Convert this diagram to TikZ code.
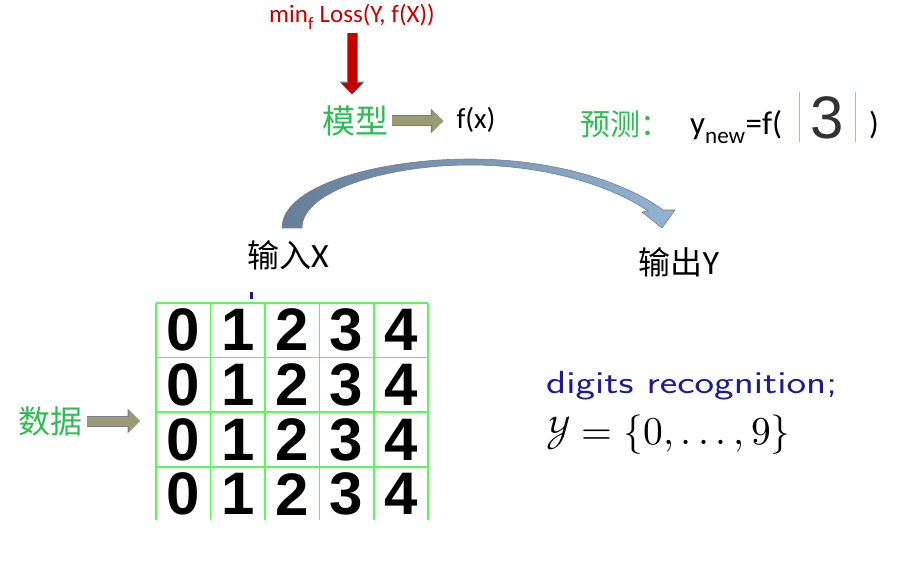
\documentclass[tikz,border=0pt]{standalone}
\usepackage{fontspec}
\usepackage{unicode-math}
\setmainfont{Carlito}
\setmathfont{Latin Modern Math}
\newfontfamily\cjk{Noto Sans CJK SC}
\newfontfamily\hand{Liberation Sans}
\usetikzlibrary{arrows.meta,positioning}

\definecolor{lossred}{RGB}{192,0,0}
\definecolor{hanzi}{RGB}{46,188,84}
\definecolor{khaki}{RGB}{154,155,117}
\definecolor{edgegray}{RGB}{112,126,142}
\definecolor{gridgreen}{RGB}{90,248,90}
\definecolor{navytext}{RGB}{28,28,140}
\definecolor{bowdark}{RGB}{104,126,150}
\definecolor{bowlight}{RGB}{148,178,210}

\newcommand\fs[1]{\fontsize{#1}{#1}\selectfont}

\begin{document}
\begin{tikzpicture}[x=1pt, y=-1pt,
  every node/.style={inner sep=2pt},
  hanzi text/.style={text=hanzi, font=\cjk\fs{#1}},
  hanzi text/.default=33,
  blockarrow/.style={draw=#1, line width=9pt, -{Triangle[length=11pt,width=21pt]},
    preaction={draw=edgegray, line width=11pt, -{Triangle[length=12.5pt,width=24pt]}}},
  gridline/.style={draw=gridgreen, line width=1.2pt},
  handdigit/.style={font=\hand\bfseries\fs{60}}
]
\useasboundingbox (0,0) rectangle (913,577);

% model and its target
\node[anchor=base, text=lossred, font=\fs{25}] (loss) at (352,23) {min\textsubscript{f} Loss(Y, f(X))};
\node[hanzi text] (model) at (355,121) {模型};
\node[anchor=base, font=\fs{29}] (fx) at (476,129) {f(x)};
\draw[blockarrow=lossred, shorten <=2pt, shorten >=9.5pt] (loss.south) -- (loss.south |- model.north);
\draw[blockarrow=khaki, shorten <=2pt, shorten >=11pt] (model.east) -- (model.east -| fx.west);

% prediction
\node[hanzi text=30] (pred) at (625,124) {预测：};
\node[anchor=base west, font=\fs{33}] (ynew) at (688,135) {y\textsubscript{new}=f(};
\node[font=\hand\fs{60}, text=black!80, minimum width=55pt, text height=43pt, text depth=0pt, inner sep=3.5pt] (probe) at (827.5,117) {3};
\draw[gridline] (probe.north west) -- (probe.south west) (probe.north east) -- (probe.south east);
\node[anchor=base west, font=\fs{32}] (close) at (867,135) {)};

% input -> output
\node[hanzi text=32, text=black] (in) at (288,255) {输入{\rmfamily\fs{34}X}};
\node[hanzi text=32, text=black] (out) at (679,262) {输出{\rmfamily\fs{34}Y}};
\path[left color=bowdark, right color=bowlight, draw=edgegray, line width=0.6pt]
  (282,228) .. controls (282,185) and (380,159) .. (470,159)
  .. controls (560,159) and (630,185) .. (663,210)
  -- (675,210) -- (662,228) -- (642,212) -- (648,211)
  .. controls (615,188) and (550,165) .. (470,165)
  .. controls (390,165) and (302,190) .. (302,228) -- cycle;
\fill[navytext] (250,292) rectangle (252.5,299);

% data grid
\node[minimum width=272pt, minimum height=217pt, inner sep=0pt, anchor=north west] (grid) at (156,303) {};
\foreach \gx in {156,210.5,265,319.5,374,428}
  \draw[gridline] (\gx,303) -- (\gx,520);
\foreach \gy in {303,357.5,412,467}
  \draw[gridline] (156,\gy) -- (428,\gy);
\foreach \r in {0,...,3}
  \foreach \c in {0,...,4}
    \node[handdigit] (d\r\c) at ({183.3+54.4*\c},{330+54.7*\r}) {\c};
\node[hanzi text=32] (data) at (50,421) {数据};
\draw[blockarrow=khaki, shorten <=3pt, shorten >=16pt] (data.east) -- (data.east -| grid.west);

% task
\node[anchor=base west, text=navytext, font=\sffamily\fs{32}] (task) at (544,393) {\scalebox{1.3}[1]{digits recognition;}};
\node[anchor=base west, font=\fs{39.5}] (range) at (544,444) {$\mathcal{Y}=\{0,\mathinner{\mathpunct{.}\mathpunct{.}\mathpunct{.}},9\}$};
\end{tikzpicture}
\end{document}
